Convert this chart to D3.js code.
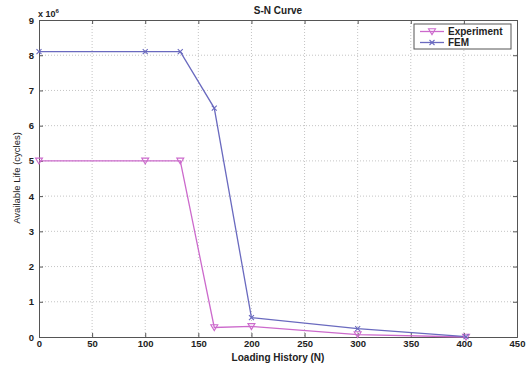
<!DOCTYPE html>
<html><head><meta charset="utf-8">
<script src="https://cdn.jsdelivr.net/npm/d3@7"></script>
<style>body{margin:0;background:#fff}svg{display:block}text{font-family:"Liberation Sans",Arial,sans-serif;fill:#222}</style>
</head><body>
<svg id="c" width="530" height="367"></svg>
<script>
const loadingHistory = [0, 100, 133, 165, 200, 300, 402];
const experiment = [5.0, 5.0, 5.0, 0.27, 0.30, 0.07, 0.0];
const fem = [8.1, 8.1, 8.1, 6.5, 0.55, 0.24, 0.01];
const xTicks = [0,50,100,150,200,250,300,350,400,450];
const yTicks = [0,1,2,3,4,5,6,7,8,9];
const seriesNames = ["Experiment","FEM"];

const svg = d3.select("#c");
const m = {l:39, r:517, t:20, b:337};
const x = d3.scaleLinear().domain([0,450]).range([m.l,m.r]);
const y = d3.scaleLinear().domain([0,9]).range([m.b,m.t]);

// grid
const g = svg.append("g");
g.selectAll(".gx").data(xTicks.slice(1,-1)).enter().append("line")
  .attr("x1",d=>x(d)).attr("x2",d=>x(d)).attr("y1",m.t).attr("y2",m.b)
  .attr("stroke","#b5b5b5").attr("stroke-width",0.8).attr("stroke-dasharray","1,2");
g.selectAll(".gy").data(yTicks.slice(1,-1)).enter().append("line")
  .attr("y1",d=>y(d)).attr("y2",d=>y(d)).attr("x1",m.l).attr("x2",m.r)
  .attr("stroke","#b5b5b5").attr("stroke-width",0.8).attr("stroke-dasharray","1,2");

// axes
const xa = svg.append("g").attr("transform",`translate(0,${m.b})`)
  .call(d3.axisBottom(x).tickValues(xTicks).tickSize(-4).tickPadding(3));
const ya = svg.append("g").attr("transform",`translate(${m.l},0)`)
  .call(d3.axisLeft(y).tickValues(yTicks).tickSize(-4).tickPadding(5));
const xt = svg.append("g").attr("transform",`translate(0,${m.t})`)
  .call(d3.axisTop(x).tickValues(xTicks).tickSize(-4).tickFormat(""));
const yr = svg.append("g").attr("transform",`translate(${m.r},0)`)
  .call(d3.axisRight(y).tickValues(yTicks).tickSize(-4).tickFormat(""));
[xa,ya,xt,yr].forEach(a=>{
  a.selectAll("path,line").attr("stroke","#555").attr("stroke-width",1);
  a.selectAll("text").style("font-size","9.5px").style("font-weight","bold").attr("fill","#333");
});

// lines
const line = d3.line().x((d,i)=>x(loadingHistory[i])).y(d=>y(d));
const colE = "#cc6acc", colF = "#6a6abf";
svg.append("path").datum(experiment).attr("d",line).attr("fill","none").attr("stroke",colE).attr("stroke-width",1.3);
svg.append("path").datum(fem).attr("d",line).attr("fill","none").attr("stroke",colF).attr("stroke-width",1.3);

const tri = (cx,cy,s)=>`M${cx-s},${cy-s*0.8}L${cx+s},${cy-s*0.8}L${cx},${cy+s*0.9}Z`;
svg.selectAll(".me").data(experiment).enter().append("path")
  .attr("d",(d,i)=>tri(x(loadingHistory[i]),y(d),3.5)).attr("fill","none").attr("stroke",colE).attr("stroke-width",1.1);
const cross = (cx,cy,s)=>`M${cx-s},${cy-s}L${cx+s},${cy+s}M${cx-s},${cy+s}L${cx+s},${cy-s}`;
svg.selectAll(".mf").data(fem).enter().append("path")
  .attr("d",(d,i)=>cross(x(loadingHistory[i]),y(d),2.5)).attr("fill","none").attr("stroke",colF).attr("stroke-width",1.1);

// texts
svg.append("text").attr("x",278).attr("y",14).attr("text-anchor","middle")
  .style("font-size","10px").style("font-weight","bold").text("S-N Curve");
svg.append("text").attr("x",278).attr("y",361).attr("text-anchor","middle")
  .style("font-size","10px").style("font-weight","bold").text("Loading History (N)");
svg.append("text").attr("transform","translate(20,178) rotate(-90)").attr("text-anchor","middle")
  .style("font-size","9.5px").text("Available Life (cycles)");
const ex = svg.append("text").attr("x",38).attr("y",17).style("font-size","9px").style("font-weight","bold");
ex.append("tspan").text("x 10");
ex.append("tspan").attr("dy",-4).style("font-size","6px").text("6");

// legend
const lg = svg.append("g");
lg.append("rect").attr("x",414).attr("y",24).attr("width",97).attr("height",25)
  .attr("fill","#fff").attr("stroke","#555").attr("stroke-width",1);
[colE,colF].forEach((c,i)=>{
  const yy = 31.5 + i*11;
  lg.append("line").attr("x1",420).attr("x2",444).attr("y1",yy).attr("y2",yy).attr("stroke",c).attr("stroke-width",1.3);
  lg.append("path").attr("d", i===0?tri(432,yy,3.5):cross(432,yy,2.5)).attr("fill","none").attr("stroke",c).attr("stroke-width",1.1);
  lg.append("text").attr("x",448).attr("y",yy+3.5).style("font-size","10px").style("font-weight","bold").text(seriesNames[i]);
});
</script>
</body></html>
